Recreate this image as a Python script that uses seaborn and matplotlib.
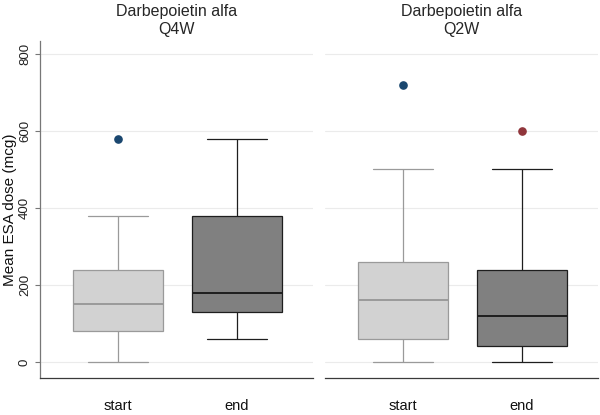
import numpy as np
import pandas as pd
import matplotlib
matplotlib.use("Agg")
import matplotlib.pyplot as plt
import seaborn as sns

# ---- data ----
panels = ["Darbepoietin alfa\nQ4W", "Darbepoietin alfa\nQ2W"]
stages = ["start", "end"]
# five-number summaries per panel/stage: whisker low, Q1, median, Q3, whisker high
whisker_low = [[0, 60], [0, 0]]
q1 = [[80, 130], [60, 40]]
median = [[150, 180], [160, 120]]
q3 = [[240, 380], [260, 240]]
whisker_high = [[380, 580], [500, 500]]
outliers = [[[580], []], [[720], [600]]]
yticks = [0, 200, 400, 600, 800]

box_fill = {"start": "#d2d2d2", "end": "#808080"}
box_edge = {"start": "#9a9a9a", "end": "#1e1e1e"}
flier_col = [["#1a476f", None], ["#1a476f", "#90353b"]]

sns.set_theme(style="white")
plt.rcParams["font.family"] = ["Liberation Sans", "DejaVu Sans"]

fig = plt.figure(figsize=(6.0, 4.15), dpi=100)
W, H = 600, 415
ax_l = fig.add_axes([40 / W, 1 - 378 / H, 273 / W, 337 / H])
ax_r = fig.add_axes([325 / W, 1 - 378 / H, 273 / W, 337 / H])
axes = [ax_l, ax_r]


def build_rows(p, s):
    i = stages.index(s)
    lo, a, m, b, hi = (whisker_low[p][i], q1[p][i], median[p][i],
                       q3[p][i], whisker_high[p][i])
    vals = [lo, a, a, m, m, b, b, hi]
    out = outliers[p][i]
    vals += out if out else [hi]
    return pd.DataFrame({"stage": s, "dose": vals})


for p, ax in enumerate(axes):
    for i, s in enumerate(stages):
        df = build_rows(p, s)
        fc = flier_col[p][i] or "none"
        sns.boxplot(data=df, x="stage", y="dose", order=stages, ax=ax,
                    color=box_fill[s], linecolor=box_edge[s], width=0.76,
                    linewidth=0.9, saturation=1, whis=1.5,
                    capwidths=0.5,
                    medianprops=dict(linewidth=1.4, color=box_edge[s]),
                    flierprops=dict(marker="o", markersize=5.2,
                                    markerfacecolor=fc, markeredgecolor=fc))
    ax.set_xlim(-0.655, 1.64)
    ax.set_ylim(-42, 834)
    ax.set_yticks(yticks)
    ax.grid(axis="y", color="#ebebeb", linewidth=0.8)
    ax.set_axisbelow(True)
    ax.set_xlabel("")
    ax.set_ylabel("")
    ax.set_title(panels[p], fontsize=11.5, pad=5, linespacing=1.25)
    for sp in ["top", "right"]:
        ax.spines[sp].set_visible(False)
    ax.spines["bottom"].set_color("#3a3a3a")
    ax.spines["bottom"].set_linewidth(0.9)
    ax.tick_params(axis="x", length=0, pad=15, labelsize=10.5, colors="#111111")

ax_l.spines["left"].set_color("#777777")
ax_l.spines["left"].set_linewidth(0.9)
ax_l.tick_params(axis="y", left=True, length=3.5, width=0.8, color="#777777",
                 pad=3, labelsize=9.5, labelcolor="#222222")
for t in ax_l.get_yticklabels():
    t.set_rotation(90)
    t.set_va("center")
ax_r.spines["left"].set_visible(False)
ax_r.tick_params(axis="y", left=False, labelleft=False)

fig.text(10 / W, 1 - 210 / H, "Mean ESA dose (mcg)", rotation=90,
         ha="center", va="center", fontsize=11, color="#111111")

fig.savefig("out.png", dpi=100, facecolor="white")
